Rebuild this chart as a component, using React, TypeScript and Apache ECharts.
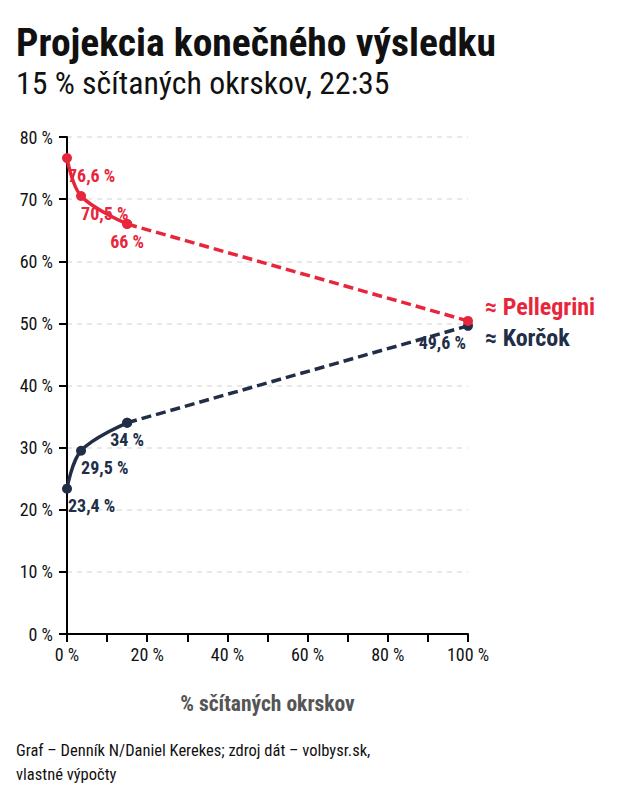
import React, { useEffect, useRef } from 'react';
import * as echarts from 'echarts';

// ---- data ----
const countedPct = [0, 3.5, 15, 100];
const pellegrini = [76.6, 70.5, 66, 50.4];
const korcok = [23.4, 29.5, 34, 49.6];
const candidateNames = ['Pellegrini', 'Korčok'];
const lastCountedIndex = 2;
const yMin = 0;
const yMax = 80;
const yStep = 10;
const xMin = 0;
const xMax = 100;
const xStep = 10;
const xLabelEvery = 20;

const titleText = 'Projekcia konečného výsledku';
const subtitleText = '15 % sčítaných okrskov, 22:35';
const xAxisName = '% sčítaných okrskov';
const sourceLines = ['Graf – Denník N/Daniel Kerekes; zdroj dát – volbysr.sk,', 'vlastné výpočty'];

const RED = '#e8263b';
const NAVY = '#212e48';
const FONT = "'Roboto Condensed', Roboto, sans-serif";

const fmt = (v: number) => `${String(v).replace('.', ',')} %`;

// label placement styles per point index
const pLabelStyles: any[] = [
  { show: true, position: 'bottom', align: 'left', offset: [1, -2] },
  { show: true, position: 'bottom', align: 'left', offset: [0, -2] },
  { show: true, position: 'bottom', align: 'center', offset: [0, -1] },
  { show: false },
];
const kLabelStyles: any[] = [
  { show: true, position: 'bottom', align: 'left', offset: [1, -2] },
  { show: true, position: 'bottom', align: 'left', offset: [0, -2] },
  { show: true, position: 'bottom', align: 'center', offset: [0, -2] },
  { show: true, position: 'bottom', align: 'right', offset: [-2, -2] },
];

function buildSeries(name: string, values: number[], color: string, labelStyles: any[], endOffset: number[]) {
  const pts = countedPct.map((x, i) => ({
    value: [x, values[i]],
    label: { ...labelStyles[i], formatter: () => fmt(values[i]) },
  }));
  const solid = pts.slice(0, lastCountedIndex + 1);
  const dashed = pts.slice(lastCountedIndex).map((p, i) => ({
    value: p.value,
    label: i === pts.length - 1 - lastCountedIndex ? p.label : { show: false },
  }));
  const common = {
    type: 'line',
    symbol: 'circle',
    symbolSize: 10,
    itemStyle: { color },
    label: { color, fontFamily: FONT, fontWeight: 'bold', fontSize: 18, distance: 5 },
  };
  return [
    {
      ...common,
      name,
      smooth: 0.35,
      lineStyle: { color, width: 3.5 },
      data: solid,
    },
    {
      ...common,
      name: name + ' projekcia',
      lineStyle: { color, width: 3.5, type: [10, 5] },
      data: dashed,
      endLabel: {
        show: true,
        formatter: `≈ ${name}`,
        color,
        fontFamily: FONT,
        fontWeight: 'bold',
        fontSize: 24,
        offset: endOffset,
      },
    },
  ];
}

export default function App() {
  const ref = useRef<HTMLDivElement>(null);
  useEffect(() => {
    if (!ref.current) return;
    const chart = echarts.init(ref.current, undefined, { renderer: 'svg' });
    chart.setOption({
      animation: false,
      backgroundColor: '#fff',
      grid: { left: 67, right: 164, top: 137, bottom: 166 },
      xAxis: {
        type: 'value',
        min: xMin,
        max: xMax,
        interval: xStep,
        name: xAxisName,
        nameLocation: 'middle',
        nameGap: 58,
        nameTextStyle: { fontFamily: FONT, fontWeight: 'bold', fontSize: 21.5, color: '#555' },
        axisLine: { show: true, lineStyle: { color: '#000', width: 2 } },
        axisTick: { show: true, length: 8, lineStyle: { color: '#000', width: 2 } },
        axisLabel: {
          color: '#111',
          fontFamily: FONT,
          fontSize: 18,
          margin: 11,
          formatter: (v: number) => (v % xLabelEvery === 0 ? `${v} %` : ''),
        },
        splitLine: { show: false },
      },
      yAxis: {
        type: 'value',
        min: yMin,
        max: yMax,
        interval: yStep,
        axisLine: { show: true, lineStyle: { color: '#000', width: 2 } },
        axisTick: { show: true, length: 8, lineStyle: { color: '#000', width: 2 } },
        axisLabel: { color: '#111', fontFamily: FONT, fontSize: 18, margin: 14, formatter: (v: number) => `${v} %` },
        splitLine: { show: true, lineStyle: { color: '#e8e8e8', width: 2, type: [5, 5] } },
      },
      graphic: [
        { type: 'text', x: 16, y: 42, style: { text: titleText, fill: '#111', font: `bold 39.6px ${FONT}`, verticalAlign: 'middle' } },
        { type: 'text', x: 16, y: 83, style: { text: subtitleText, fill: '#111', font: `31.8px ${FONT}`, verticalAlign: 'middle' } },
        { type: 'text', x: 16, y: 750, style: { text: sourceLines[0], fill: '#111', font: `16.5px ${FONT}`, verticalAlign: 'middle' } },
        { type: 'text', x: 16, y: 774, style: { text: sourceLines[1], fill: '#111', font: `16.5px ${FONT}`, verticalAlign: 'middle' } },
      ],
      series: [
        ...buildSeries(candidateNames[1], korcok, NAVY, kLabelStyles, [9, 12]),
        ...buildSeries(candidateNames[0], pellegrini, RED, pLabelStyles, [9, -14]),
      ],
    });
    return () => chart.dispose();
  }, []);
  return <div ref={ref} style={{ position: 'fixed', left: 0, top: 0, width: 632, height: 800 }} />;
}
